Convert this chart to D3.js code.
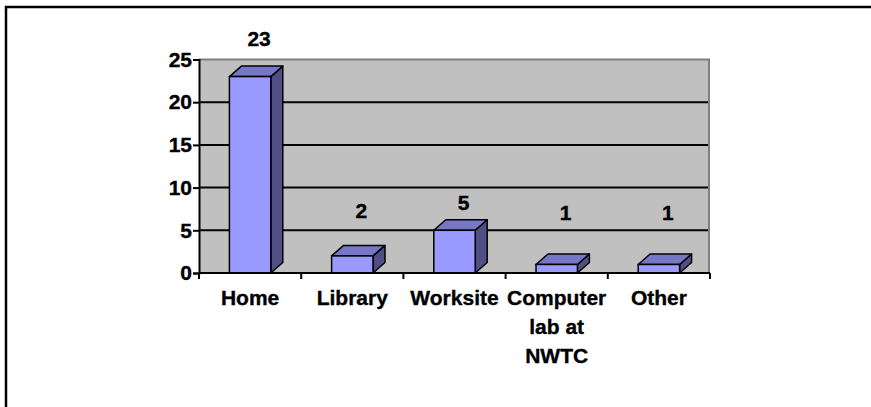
<!DOCTYPE html>
<html>
<head>
<meta charset="utf-8">
<script src="https://cdn.jsdelivr.net/npm/d3@7/dist/d3.min.js"></script>
<style>
  html, body { margin: 0; padding: 0; background: #fff; }
  svg { display: block; }
  text { font-family: "Liberation Sans", Arial, sans-serif; font-weight: bold; fill: #000; stroke: #000; stroke-width: 0.35px; }
</style>
</head>
<body>
<svg id="chart" width="871" height="407"></svg>
<script>
// Where the work was done
const categories = [["Home"], ["Library"], ["Worksite"], ["Computer", "lab at", "NWTC"], ["Other"]];
const values = [23, 2, 5, 1, 1];
const yTicks = [0, 5, 10, 15, 20, 25];

const svg = d3.select("#chart");

// Plot frame
const plotLeft = 199, plotRight = 710, plotTop = 59.5, plotBottom = 273;
const depthX = 12, depthY = 10.5;

const x = d3.scaleBand().domain(d3.range(categories.length)).range([plotLeft, plotRight]).padding(0);
const y = d3.scaleLinear().domain([0, 25]).range([plotBottom, plotTop]);
const barW = x.bandwidth() * 0.405;

// Outer chart border (runs off the page on the right and bottom)
svg.append("rect")
  .attr("x", 6).attr("y", 7).attr("width", 1000).attr("height", 600)
  .attr("fill", "#fff").attr("stroke", "#000").attr("stroke-width", 2.5);

// Back wall
svg.append("rect")
  .attr("x", plotLeft).attr("y", y(25))
  .attr("width", plotRight - 1 - plotLeft).attr("height", plotBottom - y(25))
  .attr("fill", "#C0C0C0");
svg.append("path")
  .attr("d", `M${plotLeft},${y(25)}H${plotRight - 1}V${plotBottom}`)
  .attr("fill", "none").attr("stroke", "#808080").attr("stroke-width", 2);

// Gridlines
svg.append("g").selectAll("line")
  .data(yTicks.filter(t => t > 0 && t < 25))
  .join("line")
  .attr("x1", plotLeft).attr("x2", plotRight - 2)
  .attr("y1", d => y(d)).attr("y2", d => y(d))
  .attr("stroke", "#000").attr("stroke-width", 2);

// Y axis
const yAxis = svg.append("g")
  .attr("transform", `translate(${plotLeft},0)`)
  .call(d3.axisLeft(y).tickValues(yTicks).tickSize(6).tickPadding(1).tickFormat(d3.format("d")));
yAxis.select(".domain").attr("stroke", "#000").attr("stroke-width", 2);
yAxis.selectAll(".tick line").attr("stroke", "#000").attr("stroke-width", 2);
yAxis.selectAll(".tick text")
  .attr("font-size", 21).attr("font-family", "Liberation Sans, Arial, sans-serif")
  .attr("font-weight", "bold").attr("fill", "#000");

// Bars: front, top and side faces
const bars = svg.append("g").selectAll("g")
  .data(values)
  .join("g");

const barX = (d, i) => x(i) + (x.bandwidth() - barW) / 2;

bars.append("path") // side
  .attr("d", (d, i) => {
    const x1 = barX(d, i) + barW, y0 = y(0), y1 = y(d);
    return `M${x1},${y0}L${x1 + depthX},${y0 - depthY}L${x1 + depthX},${y1 - depthY}L${x1},${y1}Z`;
  })
  .attr("fill", "#4F4F85").attr("stroke", "#000").attr("stroke-width", 1.5).attr("stroke-linejoin", "round");

bars.append("path") // top
  .attr("d", (d, i) => {
    const x0 = barX(d, i), y1 = y(d);
    return `M${x0},${y1}L${x0 + depthX},${y1 - depthY}L${x0 + barW + depthX},${y1 - depthY}L${x0 + barW},${y1}Z`;
  })
  .attr("fill", "#7777C8").attr("stroke", "#000").attr("stroke-width", 1.5).attr("stroke-linejoin", "round");

bars.append("rect") // front
  .attr("x", (d, i) => barX(d, i))
  .attr("y", d => y(d))
  .attr("width", barW)
  .attr("height", d => y(0) - y(d))
  .attr("fill", "#9999FF").attr("stroke", "#000").attr("stroke-width", 1.5);

// X axis
const xAxis = svg.append("g")
  .attr("transform", `translate(0,${plotBottom})`);
xAxis.append("line")
  .attr("x1", plotLeft).attr("x2", plotRight).attr("y1", 0).attr("y2", 0)
  .attr("stroke", "#000").attr("stroke-width", 2);
xAxis.selectAll("line.tk")
  .data(d3.range(categories.length + 1))
  .join("line").attr("class", "tk")
  .attr("x1", i => plotLeft + i * x.bandwidth()).attr("x2", i => plotLeft + i * x.bandwidth())
  .attr("y1", 0).attr("y2", 6)
  .attr("stroke", "#000").attr("stroke-width", 2);

// Category labels
const catText = svg.append("g").selectAll("text")
  .data(categories)
  .join("text")
  .attr("text-anchor", "middle")
  .attr("font-size", 21)
  .attr("x", (d, i) => x(i) + x.bandwidth() / 2)
  .attr("y", 305);
catText.selectAll("tspan")
  .data(d => d)
  .join("tspan")
  .attr("x", function () { return d3.select(this.parentNode).attr("x"); })
  .attr("dy", (d, j) => j === 0 ? 0 : 29)
  .text(d => d);

// Value labels floated above each column
const labelLift = v => 58.9 + 0.8 * v + 0.296 * v * v;
svg.append("g").selectAll("text")
  .data(values)
  .join("text")
  .attr("text-anchor", "middle")
  .attr("font-size", 21)
  .attr("x", (d, i) => x(i) + x.bandwidth() / 2 + 9)
  .attr("y", d => plotBottom - labelLift(d) + 7)
  .text(d => d);
</script>
</body>
</html>
